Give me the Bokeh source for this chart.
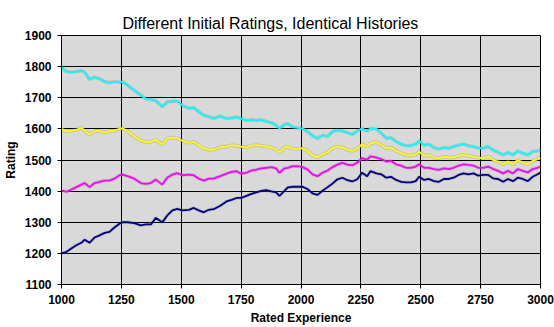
from bokeh.plotting import figure
from bokeh.models import FixedTicker, Range1d
from bokeh.embed import file_html
from bokeh.resources import INLINE

# ---------------- data ----------------
title_text = "Different Initial Ratings, Identical Histories"
x_ticks = [1000, 1250, 1500, 1750, 2000, 2250, 2500, 2750, 3000]
y_ticks = [1100, 1200, 1300, 1400, 1500, 1600, 1700, 1800, 1900]

experience = [1000, 1021, 1041, 1062, 1083, 1097, 1117, 1138, 1159, 1180, 1200, 1221, 1242, 1255, 1276, 1304,
              1331, 1352, 1373, 1394, 1421, 1442, 1463, 1483, 1504, 1532, 1552, 1573, 1594, 1615, 1635, 1663,
              1689, 1710, 1731, 1750, 1772, 1793, 1814, 1834, 1855, 1876, 1896, 1910, 1931, 1945, 1965, 1986,
              2007, 2028, 2048, 2069, 2090, 2110, 2131, 2152, 2173, 2194, 2214, 2235, 2255, 2276, 2290,
              2315, 2335, 2356, 2376, 2397, 2418, 2438, 2459, 2479, 2493, 2514, 2534, 2555, 2576, 2596, 2617,
              2637, 2658, 2679, 2699, 2720, 2740, 2761, 2782, 2802, 2823, 2844, 2864, 2885, 2905, 2926, 2947,
              2967, 2988, 3000]

start_1800 = [1798, 1784, 1782, 1784, 1787, 1782, 1759, 1766, 1761, 1752, 1748, 1752, 1750, 1752, 1740, 1724,
              1708, 1697, 1695, 1690, 1671, 1687, 1689, 1689, 1676, 1666, 1668, 1655, 1644, 1639, 1634, 1641,
              1633, 1635, 1638, 1633, 1627, 1629, 1627, 1629, 1624, 1620, 1612, 1601, 1614, 1617, 1606, 1603,
              1601, 1591, 1578, 1569, 1580, 1575, 1591, 1596, 1593, 1588, 1582, 1593, 1601, 1593, 1601,
              1600, 1586, 1570, 1572, 1559, 1551, 1546, 1546, 1551, 1561, 1548, 1551, 1540, 1535, 1540, 1538,
              1543, 1548, 1551, 1546, 1543, 1538, 1538, 1543, 1532, 1525, 1516, 1525, 1516, 1529, 1522, 1516,
              1527, 1529, 1532]

start_1600 = [1600, 1592, 1594, 1597, 1604, 1594, 1581, 1592, 1594, 1589, 1592, 1594, 1600, 1602, 1592, 1576,
              1562, 1558, 1558, 1565, 1549, 1570, 1572, 1570, 1562, 1555, 1558, 1547, 1537, 1533, 1533, 1541,
              1543, 1548, 1546, 1543, 1540, 1546, 1548, 1546, 1543, 1540, 1533, 1525, 1540, 1543, 1536, 1536,
              1538, 1529, 1515, 1508, 1519, 1525, 1538, 1543, 1540, 1533, 1529, 1536, 1551, 1543, 1554,
              1557, 1548, 1538, 1540, 1529, 1522, 1516, 1514, 1518, 1527, 1514, 1516, 1508, 1505, 1511, 1508,
              1508, 1514, 1516, 1514, 1511, 1508, 1505, 1511, 1500, 1495, 1486, 1495, 1486, 1500, 1492, 1486,
              1497, 1503, 1508]

start_1400 = [1402, 1398, 1405, 1413, 1421, 1426, 1413, 1426, 1430, 1434, 1434, 1440, 1451, 1453, 1448, 1440,
              1426, 1423, 1426, 1437, 1421, 1444, 1453, 1458, 1451, 1453, 1451, 1440, 1434, 1440, 1440, 1448,
              1456, 1462, 1464, 1456, 1459, 1466, 1469, 1473, 1475, 1477, 1473, 1459, 1473, 1475, 1480, 1480,
              1477, 1469, 1454, 1448, 1459, 1466, 1477, 1485, 1491, 1485, 1483, 1491, 1506, 1501, 1512,
              1508, 1503, 1495, 1497, 1486, 1482, 1475, 1475, 1479, 1486, 1475, 1475, 1471, 1468, 1473, 1471,
              1475, 1482, 1486, 1484, 1482, 1475, 1475, 1479, 1471, 1465, 1457, 1465, 1457, 1471, 1465, 1460,
              1471, 1475, 1479]

start_1200 = [1200, 1205, 1216, 1226, 1234, 1244, 1234, 1251, 1258, 1266, 1269, 1283, 1295, 1300, 1300, 1297,
              1290, 1293, 1293, 1314, 1300, 1322, 1338, 1343, 1338, 1340, 1346, 1338, 1332, 1340, 1342, 1353,
              1367, 1372, 1378, 1378, 1385, 1391, 1396, 1401, 1403, 1399, 1396, 1385, 1401, 1412, 1414, 1414,
              1414, 1406, 1393, 1388, 1401, 1412, 1424, 1438, 1443, 1435, 1431, 1438, 1459, 1448, 1464,
              1457, 1454, 1443, 1446, 1436, 1430, 1428, 1428, 1432, 1446, 1436, 1439, 1432, 1430, 1439, 1439,
              1443, 1452, 1457, 1454, 1457, 1450, 1452, 1452, 1441, 1439, 1430, 1439, 1432, 1443, 1439, 1432,
              1446, 1454, 1460]

series = [
    (start_1200, "#000080"),
    (start_1400, "#FF00FF"),
    (start_1600, "#FFFF00"),
    (start_1800, "#00FFFF"),
]

FONT = "Liberation Sans"

p = figure(width=554, height=327, output_backend="svg", toolbar_location=None,
           x_range=Range1d(1000, 3000), y_range=Range1d(1100, 1900),
           min_border_left=58, min_border_right=14, min_border_top=35, min_border_bottom=40,
           title=title_text)

p.title.text_font = FONT
p.title.text_font_size = "16px"
p.title.text_font_style = "normal"
p.title.align = "left"
p.title.offset = 61
p.title.standoff = 4
p.title.text_line_height = 1.6
p.title.vertical_align = "top"
p.title.text_color = "black"

p.background_fill_color = "#D9D9D9"
p.border_fill_color = "white"
p.outline_line_color = "black"
p.outline_line_width = 1

p.xaxis.ticker = FixedTicker(ticks=x_ticks)
p.yaxis.ticker = FixedTicker(ticks=y_ticks)
p.grid.grid_line_color = "black"
p.grid.grid_line_alpha = 1.0
p.grid.grid_line_width = 1

for ax in (p.xaxis[0], p.yaxis[0]):
    ax.major_label_text_font = FONT
    ax.major_label_text_font_size = "12px"
    ax.major_label_text_font_style = "bold"
    ax.major_label_text_color = "black"
    ax.axis_label_text_font = FONT
    ax.axis_label_text_font_size = "12px"
    ax.axis_label_text_font_style = "bold"
    ax.axis_label_text_color = "black"
    ax.minor_tick_line_color = None
    ax.major_tick_in = 0
    ax.major_tick_out = 4
    ax.major_tick_line_color = "black"
    ax.axis_line_color = "black"
    ax.major_label_standoff = 6

p.xaxis.axis_label = "Rated Experience"
p.yaxis.axis_label = "Rating"
p.xaxis.axis_label_standoff = 4
p.yaxis.axis_label_standoff = 4

for vals, col in series:
    p.line(experience, vals, line_color="#808080", line_width=3.5, line_alpha=0.3)
for vals, col in series:
    p.line(experience, vals, line_color=col, line_width=1.8)

open("out.html", "w").write(file_html(p, INLINE))
